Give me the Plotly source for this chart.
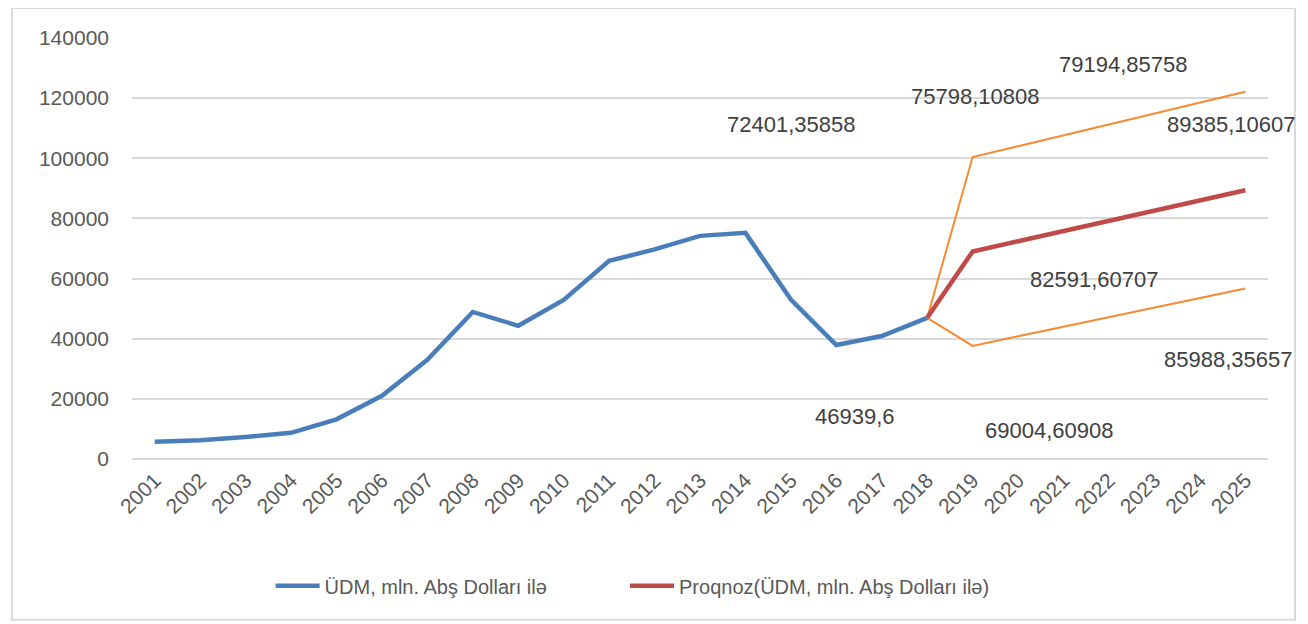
import plotly.graph_objects as go

years = list(range(2001, 2026))
hist_years = list(range(2001, 2019))
gdp = [5700, 6200, 7300, 8700, 13200, 21000, 33000, 48900, 44300, 52900,
       65900, 69700, 74200, 75200, 53000, 37900, 40900, 46939.6]
fc_years = list(range(2018, 2026))
forecast = [46939.6, 69004.60908, 72401.35858, 75798.10808, 79194.85758,
            82591.60707, 85988.35657, 89385.10607]
upper = [46939.6, 100400, 104000, 107600, 111200, 114800, 118500, 122100]
lower = [46939.6, 37600, 40800, 44000, 47200, 50400, 53500, 56700]

label_texts = ["72401,35858", "75798,10808", "79194,85758", "89385,10607",
               "82591,60707", "85988,35657", "69004,60908", "46939,6"]
label_x = [2015.0, 2019.05, 2022.3, 2024.68, 2021.68, 2024.62, 2020.67, 2016.4]
label_y = [111400, 120700, 131300, 111400, 59850, 33250, 9640, 14300]

FONT = "Liberation Sans, Arial, sans-serif"
GREY = "#595959"

fig = go.Figure()
fig.add_trace(go.Scatter(x=fc_years, y=upper, mode="lines",
                         line=dict(color="#F58A33", width=2), showlegend=False,
                         hoverinfo="skip"))
fig.add_trace(go.Scatter(x=fc_years, y=lower, mode="lines",
                         line=dict(color="#F58A33", width=2), showlegend=False,
                         hoverinfo="skip"))
fig.add_trace(go.Scatter(x=hist_years, y=gdp, mode="lines",
                         name="ÜDM, mln. Abş Dolları ilə", legend="legend",
                         line=dict(color="#4A7EBB", width=4.5)))
fig.add_trace(go.Scatter(x=fc_years, y=forecast, mode="lines",
                         name="Proqnoz(ÜDM, mln. Abş Dolları ilə)", legend="legend2",
                         line=dict(color="#BE4B48", width=4.5)))

for t, x, y in zip(label_texts, label_x, label_y):
    fig.add_annotation(x=x, y=y, xref="x", yref="y", text=t, showarrow=False,
                       font=dict(family=FONT, size=22, color="#404040"))

fig.add_shape(type="rect", xref="paper", yref="paper",
              x0=-0.1056, x1=1.0238, y0=-0.382, y1=1.071,
              line=dict(color="#D9D9D9", width=2), fillcolor="rgba(0,0,0,0)",
              layer="below")

legend_style = dict(orientation="h", y=-0.255, yanchor="top", xanchor="left",
                    font=dict(family=FONT, size=20, color=GREY), itemwidth=44,
                    bgcolor="rgba(0,0,0,0)")

fig.update_layout(
    width=1300, height=616,
    margin=dict(l=124, r=40, t=30, b=165),
    paper_bgcolor="white", plot_bgcolor="white",
    font=dict(family=FONT, color=GREY),
    legend=dict(x=0.122, **legend_style),
    legend2=dict(x=0.434, **legend_style),
    xaxis=dict(range=[2000.5, 2025.5], tickmode="array", tickvals=years,
               ticktext=[str(y) for y in years], tickangle=-45,
               tickfont=dict(family=FONT, size=21, color=GREY),
               showgrid=False, zeroline=False, showline=False, ticks="",
               ticklabelstandoff=4),
    yaxis=dict(range=[0, 140000], tickmode="array",
               tickvals=[0, 20000, 40000, 60000, 80000, 100000, 120000, 140000],
               tickformat="d", tickfont=dict(family=FONT, size=21, color=GREY),
               showgrid=True, gridcolor="#D9D9D9", gridwidth=1.5,
               zeroline=True, zerolinecolor="#D9D9D9", zerolinewidth=1.5,
               showline=False, ticks="", ticklabelstandoff=22),
)

fig.write_html("out.html")
